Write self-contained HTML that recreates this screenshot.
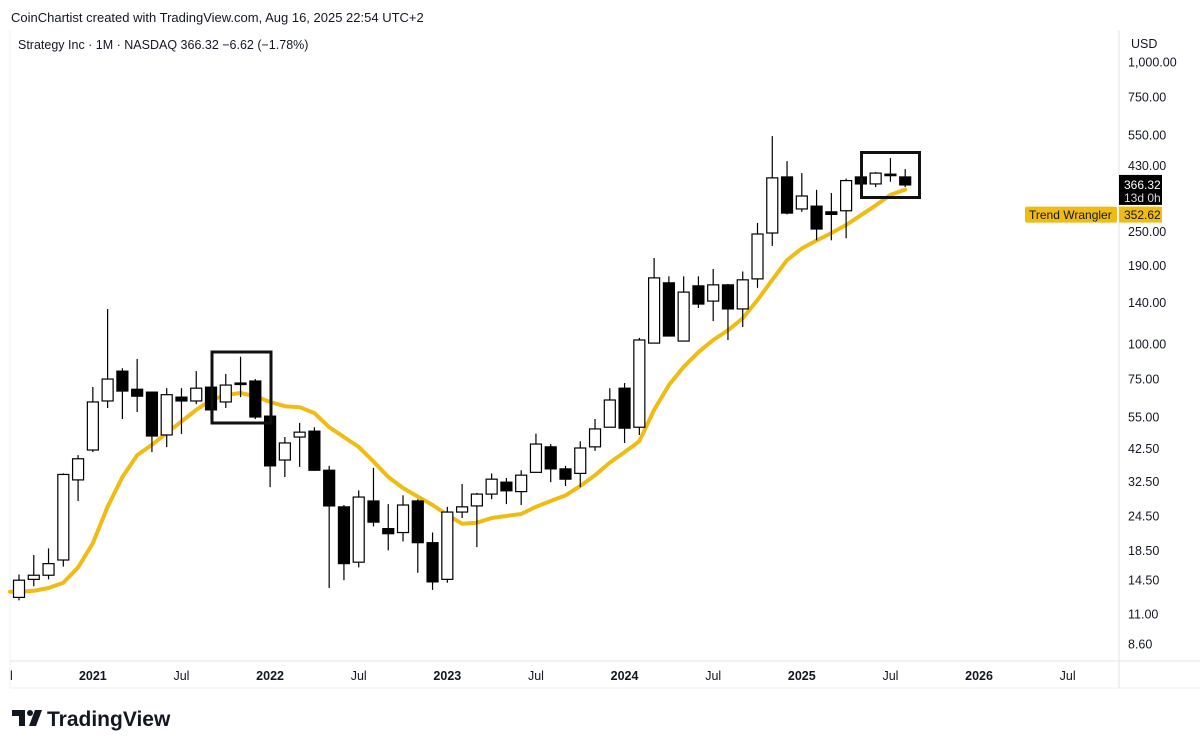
<!DOCTYPE html>
<html><head><meta charset="utf-8"><style>
body{margin:0;background:#fff;width:1200px;height:748px;overflow:hidden;font-family:"Liberation Sans",sans-serif}
svg{position:absolute;left:0;top:0}
</style></head><body>
<svg id="chart" width="1200" height="748"></svg>
<script>
const months=["Aug20","Sep20","Oct20","Nov20","Dec20","Jan21","Feb21","Mar21","Apr21","May21","Jun21","Jul21","Aug21","Sep21","Oct21","Nov21","Dec21","Jan22","Feb22","Mar22","Apr22","May22","Jun22","Jul22","Aug22","Sep22","Oct22","Nov22","Dec22","Jan23","Feb23","Mar23","Apr23","May23","Jun23","Jul23","Aug23","Sep23","Oct23","Nov23","Dec23","Jan24","Feb24","Mar24","Apr24","May24","Jun24","Jul24","Aug24","Sep24","Oct24","Nov24","Dec24","Jan25","Feb25","Mar25","Apr25","May25","Jun25","Jul25","Aug25"];
const opens=[12.6,14.6,15.1,17.1,32.9,42.0,62.7,80.0,69.0,67.4,47.5,64.7,62.7,70.2,62.2,72.6,73.8,55.4,38.7,46.7,49.0,35.6,26.4,16.8,27.7,22.1,21.4,27.7,19.7,14.6,25.3,26.6,29.3,32.3,29.9,35.0,43.1,36.0,34.7,43.1,50.6,69.6,50.6,100.6,164.6,102.3,160.6,141.8,161.9,133,170,247.3,391,301,308,294,296.6,391,369.3,400,391];
const highs=[15.2,17.8,18.8,34.7,40.3,70.3,132.8,81.9,88.4,67.4,69.6,69.6,80.0,70.5,78.2,90.0,75,55.6,46.7,52.4,50.6,36.9,26.8,30.2,36.3,27.0,29.0,28.1,21.4,26.4,31.8,29.6,34.7,33.4,35.6,48.0,44.1,36.9,45.1,54.1,69.6,72.6,105,201.6,173.6,173.6,173.6,184.3,163.2,180.6,268.5,546,445,403.5,352,342.8,385.8,398,406.8,456,417];
const lows=[12.3,13.8,14.6,16.2,27.7,41.3,59.2,54.1,57.3,41.3,43,47.9,61.1,53.7,59.2,64.7,54.1,31.0,33.7,36.6,35.4,13.6,14.5,16.1,22.5,18.5,19.9,15.4,13.4,14.2,24.1,19.0,28.1,27.0,26.8,35.0,32.3,31.3,31.0,41.7,50.6,44.5,47.5,100.6,106.6,102.3,134,120.4,103.2,114.7,158,222.5,288,294,233,233,237,363,360,376,360];
const closes=[14.5,15.1,16.6,34.4,39.1,62.2,75,68.0,65.2,47.1,66,62.7,69.6,58.3,71.4,72.0,55,36.9,44.5,48.6,35.6,26.6,16.6,28.6,23.3,21.2,26.8,19.7,14.3,25.3,26.4,29.3,33.1,30.1,34.2,44.1,36.0,33.1,42.7,49.9,63.2,50.2,103.2,171.4,106.6,152.6,138.4,161.9,133,168.7,245.3,388,291,334.6,255.5,288,379.5,369.3,403.5,397,366.32];
const trend=[13.2,13.3,13.6,14.2,16.1,19.6,26.4,33.7,40.3,43.8,48.3,53.0,58.3,63.2,65.8,66.9,65.2,62.2,60.1,59.6,56.8,50.6,46.7,43.1,38.2,33.7,30.8,28.7,26.8,24.7,23.0,23.2,24.1,24.5,24.9,26.4,27.7,29.0,31.3,34.2,37.9,41.3,45.1,58.3,71.4,82.8,93.4,103.2,111.7,123.2,143.1,168.7,198.1,218.1,232.7,247.3,264,286,310,337.6,352.62];
const priceTicks=[1000,750,550,430,250,190,140,100,75,55,42.5,32.5,24.5,18.5,14.5,11,8.6];
const timeLabels=["2021","Jul","2022","Jul","2023","Jul","2024","Jul","2025","Jul","2026","Jul"];
const timeLabelIdx=[5,11,17,23,29,35,41,47,53,59,65,71];

const NS="http://www.w3.org/2000/svg";
const svg=document.getElementById('chart');
function yOf(p){return 62+122.4*Math.log(1000/p);}
function xOf(i){return 19+i*14.77;}
function el(tag,attrs,parent){const e=document.createElementNS(NS,tag);for(const k in attrs)e.setAttribute(k,attrs[k]);(parent||svg).appendChild(e);return e;}
function txt(s,attrs){const t=el('text',attrs);t.textContent=s;return t;}

let t=txt("CoinChartist created with TradingView.com, Aug 16, 2025 22:54 UTC+2",{x:11,y:22,'font-size':13,fill:'#131722'});


t=txt("Strategy Inc · 1M · NASDAQ  366.32  −6.62 (−1.78%)",{x:18,y:49,'font-size':12.5,fill:'#131722','xml:space':'preserve'});


let f=el('line',{x1:1119,y1:30,x2:1119,y2:688,stroke:'#e0e3eb'});


f=el('line',{x1:10,y1:661,x2:1200,y2:661,stroke:'#e0e3eb'});


f=el('line',{x1:10,y1:688,x2:1200,y2:688,stroke:'#eef0f4'});


f=el('line',{x1:10,y1:30,x2:10,y2:688,stroke:'#eef0f4'});



priceTicks.forEach(p=>{
  const s=p.toLocaleString('en-US',{minimumFractionDigits:2,maximumFractionDigits:2});
  const tt=txt(s,{x:1128,y:yOf(p)+4.5,'font-size':12.5,fill:'#131722'});
  
  
});
let cov=el('rect',{x:1120,y:30,width:80,height:25,fill:'#fff'});


t=txt("USD",{x:1131,y:48,'font-size':12.5,fill:'#131722'});


timeLabels.forEach((s,k)=>{
  const bold=/^\d/.test(s);
  const tt=txt(s,{x:xOf(timeLabelIdx[k]),y:680,'font-size':12.5,'text-anchor':'middle',fill:'#131722','font-weight':bold?'bold':'normal'});
  
  
});
t=txt("l",{x:10,y:680,'font-size':12.5,fill:'#131722'});



const pts=trend.map((v,i)=>xOf(i).toFixed(1)+','+yOf(v).toFixed(1)).join(' ');
let pl=el('polyline',{points:'10,'+yOf(trend[0]).toFixed(1)+' '+pts,fill:'none',stroke:'#f0bb12','stroke-width':4,'stroke-linejoin':'round','stroke-linecap':'round'});



months.forEach((m,i)=>{
  const g=el('g',{});
  
  
  const x=xOf(i),o=opens[i],c=closes[i];
  el('line',{x1:x,x2:x,y1:yOf(highs[i]),y2:yOf(lows[i]),stroke:'#000','stroke-width':1.2},g);
  const top=yOf(Math.max(o,c)),bot=yOf(Math.min(o,c));
  const up=c>=o;
  el('rect',{x:x-5.5,y:top,width:11,height:Math.max(bot-top,1.5),fill:up?'#fff':'#000',stroke:'#000','stroke-width':1.2},g);
});

let b=el('rect',{x:212,y:352,width:59,height:71,fill:'none',stroke:'#111','stroke-width':3});


b=el('rect',{x:861.5,y:152.5,width:58,height:45,fill:'none',stroke:'#111','stroke-width':3});



const yc=yOf(closes[closes.length-1]);
let lg=el('g',{});


el('rect',{x:1119,y:yc-10,width:43,height:30,fill:'#000'},lg);
let tx=el('text',{x:1124,y:yc+4,'font-size':12,fill:'#fff'},lg);tx.textContent=closes[closes.length-1].toFixed(2);
tx=el('text',{x:1124,y:yc+17,'font-size':12,fill:'#ddd'},lg);tx.textContent="13d 0h";
const yt=yOf(trend[trend.length-1])+25;
lg=el('g',{});


el('rect',{x:1025,y:yt-8,width:92,height:16,fill:'#f0bb12',rx:2},lg);
el('rect',{x:1119,y:yt-8,width:43,height:16,fill:'#f0bb12'},lg);
tx=el('text',{x:1029,y:yt+4.5,'font-size':12,fill:'#131722'},lg);tx.textContent="Trend Wrangler";
tx=el('text',{x:1124,y:yt+4.5,'font-size':12,fill:'#131722'},lg);tx.textContent=trend[trend.length-1].toFixed(2);

lg=el('g',{});


el('path',{d:'M12 710h13v16h-6v-10h-7z',fill:'#131722'},lg);
el('circle',{cx:30,cy:713,r:3,fill:'#131722'},lg);
el('path',{d:'M35 710h7l-6 16h-7z',fill:'#131722'},lg);
tx=el('text',{x:47,y:726,'font-size':21,'font-weight':'bold',fill:'#131722'},lg);tx.textContent="TradingView";
</script>
</body></html>
